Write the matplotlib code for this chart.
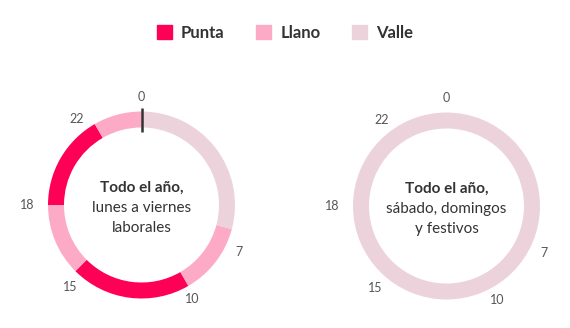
import numpy as np
import matplotlib.pyplot as plt
from matplotlib.patches import Patch

# horas de corte y periodo de cada tramo
horas_lab = [0, 7, 10, 15, 18, 22, 24]
tramos_lab = ['Valle', 'Llano', 'Punta', 'Llano', 'Punta', 'Llano']
horas_fin = [0, 24]
tramos_fin = ['Valle']
etiquetas_horas = [0, 7, 10, 15, 18, 22]

periodos = ['Punta', 'Llano', 'Valle']
colores = {'Punta': '#FF0057', 'Llano': '#FDAAC7', 'Valle': '#ECD3DB'}

titulos = [('Todo el año,', ['lunes a viernes', 'laborales']),
           ('Todo el año,', ['sábado, domingos', 'y festivos'])]

plt.rcParams['font.family'] = ['Lato', 'DejaVu Sans']

W, H = 570, 328
fig = plt.figure(figsize=(W / 100, H / 100), dpi=100)
ax = fig.add_axes([0, 0, 1, 1])

R = 93.5
ancho = 16
centros = [(141.5, H - 205), (446.5, H - 206)]
# pequeños ajustes de ángulo/radio de las etiquetas horarias (maquetación)
ajuste_ang = {0: 0, 7: 11, 10: 2, 15: -4, 18: 0, 22: -7}
ajuste_r = {0: 108, 7: 108, 10: 107, 15: 108, 18: 114, 22: 108}

for (cx, cy), horas, tramos, (tit, sub) in zip(
        centros, [horas_lab, horas_fin], [tramos_lab, tramos_fin], titulos):
    dur = [b - a for a, b in zip(horas[:-1], horas[1:])]
    ax.pie(dur, colors=[colores[t] for t in tramos], center=(cx, cy), radius=R,
           startangle=90, counterclock=False,
           wedgeprops=dict(width=ancho, linewidth=0))
    for h in etiquetas_horas:
        ang = np.deg2rad(90 - (h / 24 * 360 + ajuste_ang[h]))
        rr = ajuste_r[h]
        ax.text(cx + rr * np.cos(ang), cy + rr * np.sin(ang), str(h),
                ha='center', va='center', fontsize=9, color='#555555')
    ax.text(cx, cy + 17, tit, ha='center', va='center', fontsize=11,
            fontweight='bold', color='#333333')
    for i, linea in enumerate(sub):
        ax.text(cx, cy - 3 - 19.5 * i, linea, ha='center', va='center',
                fontsize=11, color='#333333')

# marca de las 0 h en el primer anillo
cx0, cy0 = centros[0]
ax.plot([cx0, cx0], [cy0 + R + 4, cy0 + R - 20], color='#333333', lw=1.8,
        solid_capstyle='butt')

ax.set_xlim(0, W)
ax.set_ylim(0, H)
ax.set_aspect('equal')
ax.axis('off')

handles = [Patch(color=colores[p], label=p) for p in periodos]
fig.legend(handles=handles, loc='center', bbox_to_anchor=(0.5, 1 - 33 / H),
           ncol=3, frameon=False, handlelength=0.9, handleheight=0.9,
           handletextpad=0.55, columnspacing=1.9,
           prop={'size': 12, 'weight': 'bold'}, labelcolor='#333333')

fig.savefig('out.png', dpi=100)
